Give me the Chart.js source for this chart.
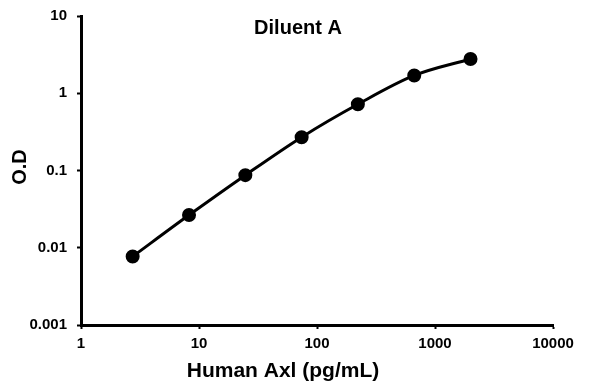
<!DOCTYPE html>
<html>
<head>
<meta charset="utf-8">
<script src="https://cdn.jsdelivr.net/npm/chart.js@4/dist/chart.umd.min.js"></script>
<style>
  html, body { margin: 0; padding: 0; background: #fff; }
  #wrap { width: 596px; height: 384px; }
</style>
</head>
<body>
<div id="wrap"><canvas id="myChart" width="596" height="384"></canvas></div>
<script>
// du lieu doc tu hinh
const concentrations = [2.74, 8.23, 24.7, 74.1, 222, 667, 2000];
const odValues = [0.0077, 0.0265, 0.087, 0.27, 0.72, 1.70, 2.78];
const xTicks = [1, 10, 100, 1000, 10000];
const yTicks = [0.001, 0.01, 0.1, 1, 10];
const chartTitle = 'Diluent A';
const xTitle = 'Human Axl (pg/mL)';
const yTitle = 'O.D';

const FONT = '"Liberation Sans", Arial, sans-serif';

// ve tieu de bieu do va tieu de truc
const titlePlugin = {
    id: 'titles',
    afterDraw: function (chart) {
        const ctx = chart.ctx;
        ctx.save();
        ctx.fillStyle = '#000';
        ctx.textAlign = 'center';
        ctx.textBaseline = 'middle';

        ctx.font = 'bold 20px ' + FONT;
        ctx.fillText(chartTitle, 298, 28);

        ctx.font = 'bold 21px ' + FONT;
        ctx.fillText(xTitle, 283, 371);

        ctx.translate(20, 167);
        ctx.rotate(-Math.PI / 2);
        ctx.font = 'bold 20px ' + FONT;
        ctx.fillText(yTitle, 0, 0);
        ctx.restore();
    }
};

const points = concentrations.map((x, i) => ({ x: x, y: odValues[i] }));

const ctx = document.getElementById('myChart').getContext('2d');
const myChart = new Chart(ctx, {
    type: 'scatter',
    data: {
        datasets: [{
            data: points,
            showLine: true,
            borderColor: '#000',
            backgroundColor: '#000',
            borderWidth: 3,
            pointRadius: 5.5,
            pointHoverRadius: 5.5,
            cubicInterpolationMode: 'monotone'
        }]
    },
    options: {
        responsive: false,
        animation: false,
        layout: { padding: { top: 16, right: 43, left: 0, bottom: 0 } },
        plugins: {
            legend: { display: false },
            tooltip: { enabled: false }
        },
        scales: {
            x: {
                type: 'logarithmic',
                min: 1,
                max: 10000,
                afterBuildTicks: function (axis) {
                    axis.ticks = xTicks.map(v => ({ value: v }));
                },
                afterFit: function (axis) {
                    axis.height = 59;
                    axis.paddingLeft = 0;
                    axis.paddingRight = 0;
                },
                ticks: {
                    callback: function (v) { return String(v); },
                    color: '#000',
                    font: { family: FONT, size: 15, weight: 'bold' },
                    padding: 6,
                    maxRotation: 0
                },
                grid: { drawOnChartArea: false, tickLength: 4, tickWidth: 2, tickColor: '#000' },
                border: { display: true, color: '#000', width: 3 }
            },
            y: {
                type: 'logarithmic',
                min: 0.001,
                max: 10,
                afterBuildTicks: function (axis) {
                    axis.ticks = yTicks.map(v => ({ value: v }));
                },
                afterFit: function (axis) {
                    axis.width = 81;
                    axis.paddingTop = 0;
                    axis.paddingBottom = 0;
                },
                ticks: {
                    callback: function (v) { return String(v); },
                    color: '#000',
                    font: { family: FONT, size: 15, weight: 'bold' },
                    padding: 10
                },
                grid: { drawOnChartArea: false, tickLength: 4, tickWidth: 2, tickColor: '#000' },
                border: { display: true, color: '#000', width: 3 }
            }
        }
    },
    plugins: [titlePlugin]
});
</script>
</body>
</html>
